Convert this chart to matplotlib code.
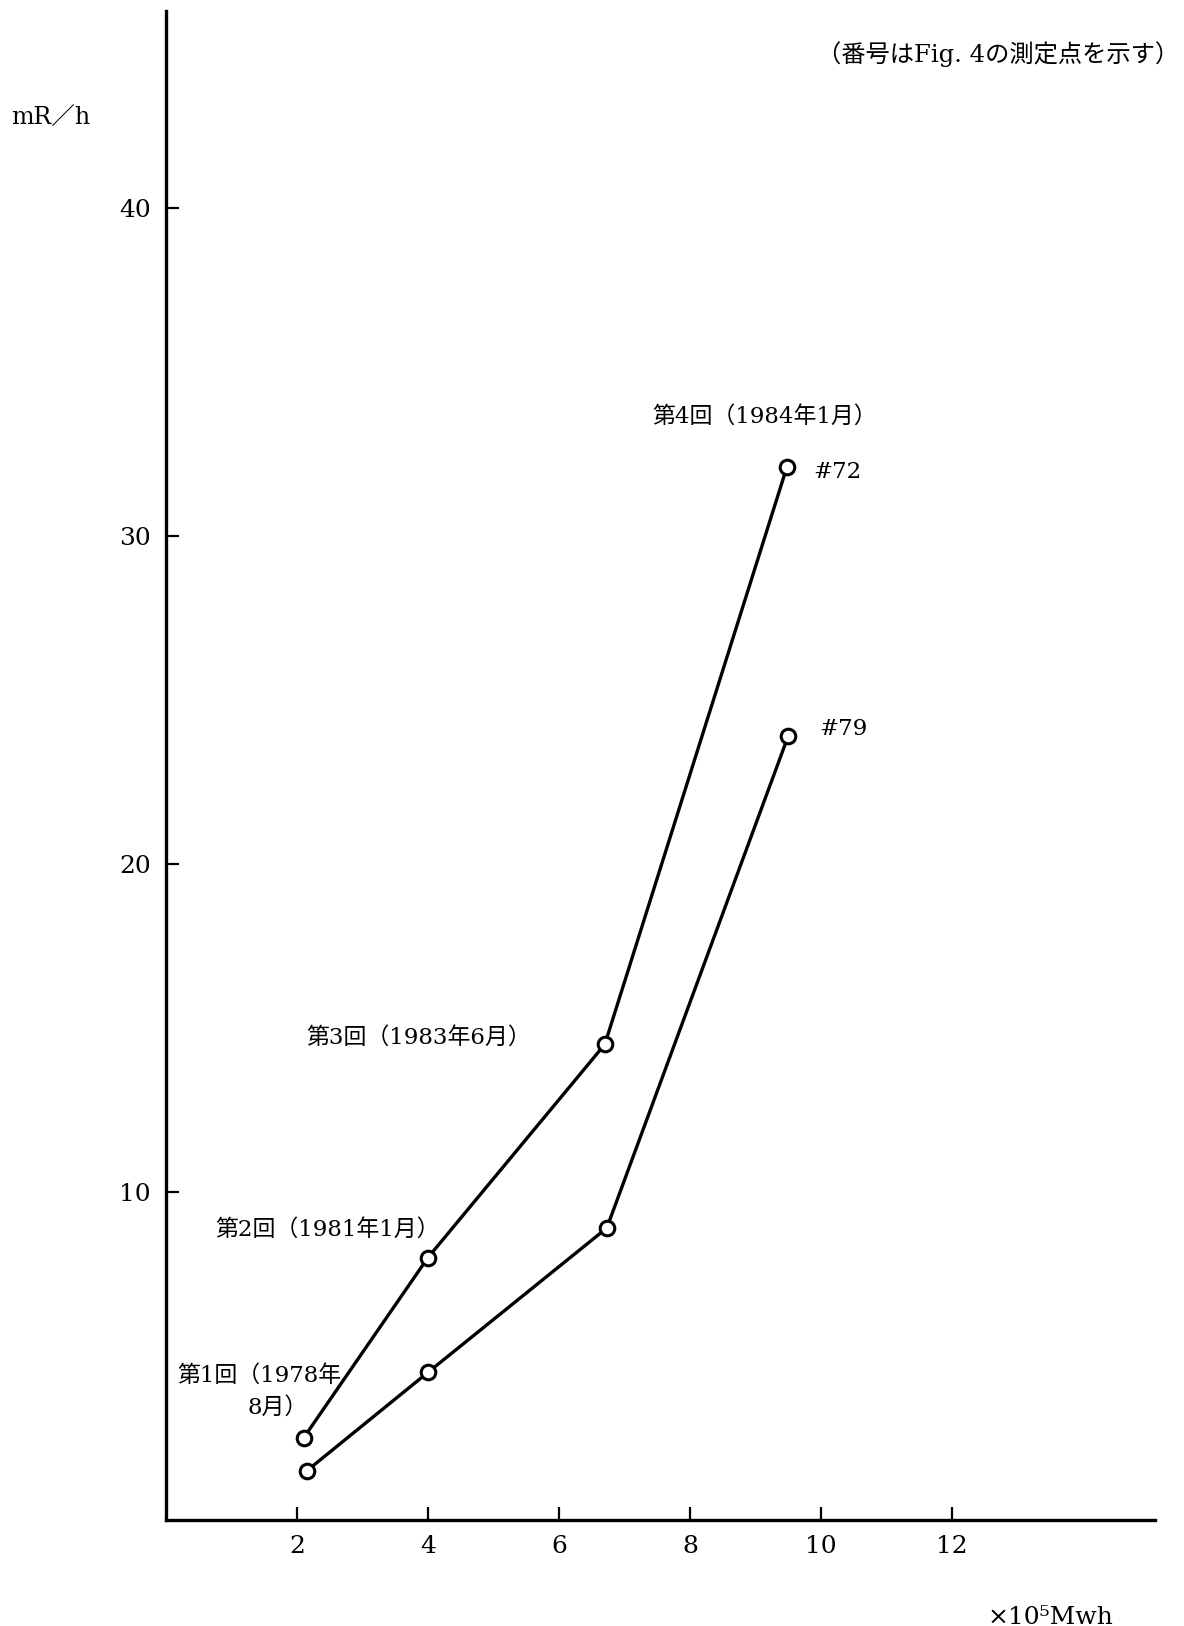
import matplotlib
matplotlib.use("Agg")
import matplotlib.pyplot as plt

plt.rcParams['font.family'] = ['DejaVu Serif', 'Noto Sans CJK JP']

# energy output (x10^5 Mwh) and dose rate (mR/h) at the 4 surveys
x_72 = [2.1, 4.0, 6.7, 9.48]
y_72 = [2.5, 8.0, 14.5, 32.1]
x_79 = [2.15, 4.0, 6.73, 9.5]
y_79 = [1.5, 4.5, 8.9, 23.9]

x_ticks = [2, 4, 6, 8, 10, 12]
y_ticks = [10, 20, 30, 40]

survey_labels = ["第4回（1984年1月）", "第3回（1983年6月）", "第2回（1981年1月）",
                 "第1回（1978年", "8月）"]
point_labels = ["#72", "#79"]

fig = plt.figure(figsize=(11.84, 16.26), dpi=100)
ax = fig.add_axes([0.1402, 0.0652, 0.8353, 0.928])

style = dict(color="black", lw=2.4, marker="o", markersize=10.5,
             markerfacecolor="white", markeredgecolor="black", markeredgewidth=2.2)
ax.plot(x_72, y_72, **style)
ax.plot(x_79, y_79, **style)

ax.set_xlim(0, 15.1)
ax.set_ylim(0, 46)
ax.set_xticks(x_ticks)
ax.set_yticks(y_ticks)
ax.tick_params(direction="in", length=9.5, width=1.6, labelsize=18, pad=11)
for side in ["top", "right"]:
    ax.spines[side].set_visible(False)
for side in ["left", "bottom"]:
    ax.spines[side].set_linewidth(2.4)

# survey / point labels
fs = 16.5
ax.text(7.42, 33.63, survey_labels[0], fontsize=fs, va="center")
ax.text(2.14, 14.70, survey_labels[1], fontsize=fs, va="center")
ax.text(0.75, 8.84, survey_labels[2], fontsize=fs, va="center")
ax.text(0.17, 4.39, survey_labels[3], fontsize=fs, va="center")
ax.text(1.24, 3.41, survey_labels[4], fontsize=fs, va="center")
ax.text(9.88, 31.95, point_labels[0], fontsize=16.5, va="center")
ax.text(9.98, 24.12, point_labels[1], fontsize=16.5, va="center")

fig.text(0.996, 0.967, "（番号はFig. 4の測定点を示す）", fontsize=17.5, ha="right", va="center")
fig.text(0.0093, 0.9274, "mR／h", fontsize=17, ha="left", va="center")
fig.text(0.94, 0.0015, "×10⁵Mwh", fontsize=18, ha="right", va="baseline")

fig.savefig("out.png", dpi=100, facecolor="white")
